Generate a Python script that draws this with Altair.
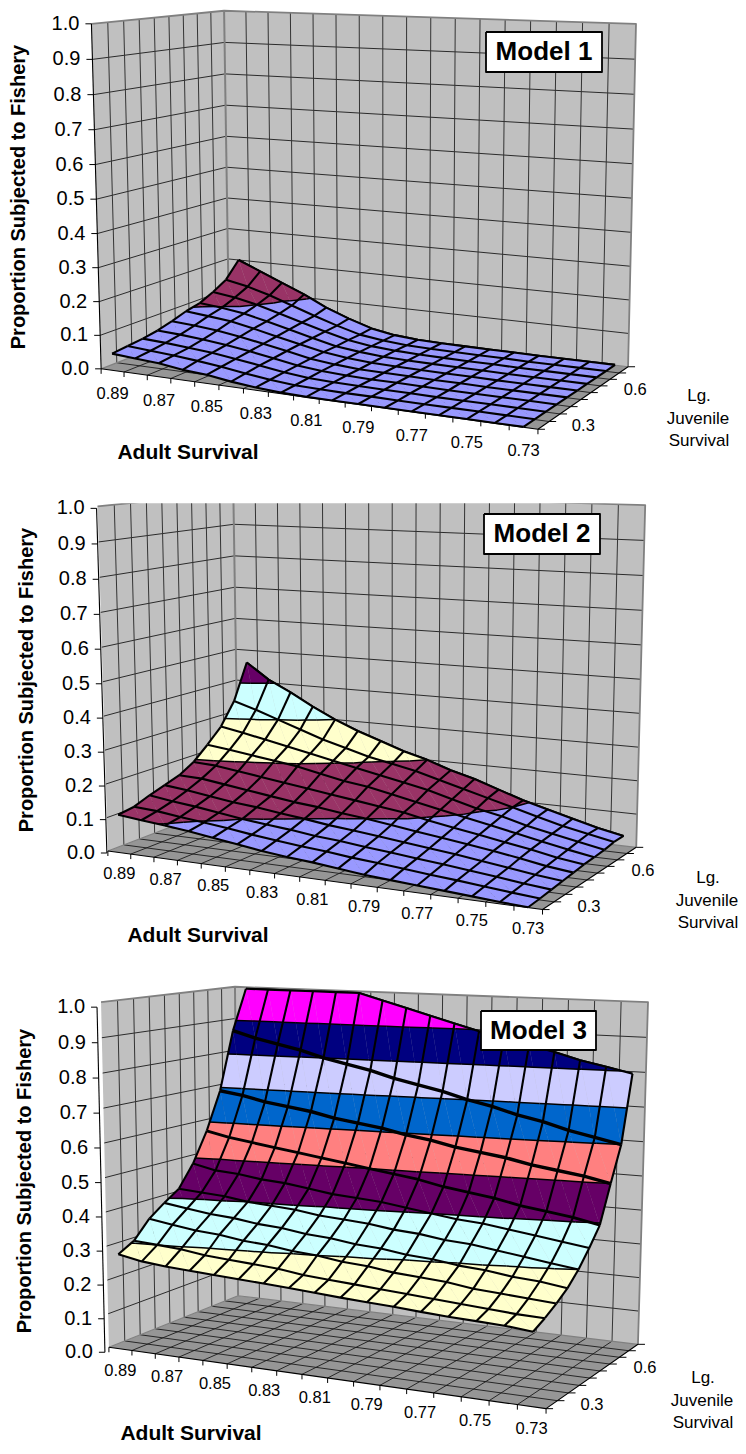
import altair as alt
import numpy as np
import pandas as pd

alt.data_transformers.disable_max_rows()

ADULT_LABELS = ["0.89", "0.87", "0.85", "0.83", "0.81", "0.79", "0.77", "0.75", "0.73"]
JUV_LABELS = ["0.3", "0.6"]
Z_LABELS = ["0.0", "0.1", "0.2", "0.3", "0.4", "0.5", "0.6", "0.7", "0.8", "0.9", "1.0"]
BAND_COLORS = ["#9999FF", "#993366", "#FFFFCC", "#CCFFFF", "#660066",
               "#FF8080", "#0066CC", "#CCCCFF", "#000080", "#FF00FF"]

# rows: back (largest juvenile survival) to front; columns: adult survival 0.89 -> 0.73
MODEL1 = [
    [.200, .170, .140, .110, .075, .048, .025, .012, .006, .004, .003, .002, .002, .001, .001, .001, .001],
    [.150, .135, .115, .090, .065, .042, .022, .012, .006, .004, .003, .002, .002, .001, .001, .001, .001],
    [.125, .115, .100, .080, .060, .040, .022, .012, .007, .004, .003, .002, .002, .001, .001, .001, .001],
    [.105, .098, .088, .072, .055, .037, .020, .012, .006, .004, .003, .002, .002, .001, .001, .001, .001],
    [.095, .088, .080, .066, .050, .035, .020, .011, .006, .004, .003, .002, .002, .001, .001, .001, .001],
    [.080, .075, .068, .058, .045, .032, .018, .010, .005, .004, .003, .002, .002, .001, .001, .001, .001],
    [.068, .064, .058, .050, .040, .028, .016, .009, .005, .003, .003, .002, .001, .001, .001, .001, .001],
    [.060, .056, .050, .044, .035, .025, .014, .007, .004, .003, .002, .002, .001, .001, .001, .001, .001],
    [.055, .050, .045, .038, .030, .020, .011, .005, .003, .002, .002, .001, .001, .001, .001, .001, .001],
    [.050, .045, .040, .030, .025, .015, .008, .003, .001, .001, .001, .001, .001, .001, .001, .001, .001],
]
MODEL2 = [
    [.460, .410, .375, .335, .300, .270, .245, .220, .200, .175, .155, .130, .105, .085, .065, .045, .030],
    [.347, .325, .300, .275, .250, .230, .210, .195, .180, .160, .140, .120, .100, .080, .060, .045, .030],
    [.278, .265, .250, .235, .220, .205, .190, .175, .160, .145, .125, .105, .090, .070, .055, .040, .025],
    [.234, .225, .215, .205, .195, .180, .165, .155, .140, .125, .110, .095, .080, .065, .050, .035, .022],
    [.194, .190, .180, .170, .160, .150, .140, .130, .120, .110, .095, .082, .070, .057, .045, .030, .020],
    [.168, .165, .155, .145, .135, .125, .118, .108, .100, .090, .080, .070, .060, .050, .038, .025, .016],
    [.153, .145, .135, .125, .118, .108, .100, .090, .083, .075, .066, .058, .050, .040, .030, .020, .012],
    [.138, .128, .120, .110, .100, .092, .085, .076, .070, .062, .055, .047, .040, .032, .024, .015, .008],
    [.120, .115, .106, .098, .090, .080, .072, .064, .058, .050, .044, .037, .030, .024, .017, .010, .004],
    [.113, .105, .098, .090, .080, .070, .060, .052, .046, .038, .030, .025, .020, .015, .010, .005, .001],
]
MODEL3 = [
    [.995, .995, .995, .995, .995, .995, .975, .955, .935, .915, .895, .880, .862, .845, .825, .810, .794],
    [.870, .850, .835, .820, .800, .785, .770, .750, .735, .720, .700, .685, .665, .650, .630, .615, .600],
    [.690, .680, .665, .655, .645, .630, .620, .610, .595, .585, .570, .560, .550, .535, .525, .515, .500],
    [.575, .560, .550, .540, .530, .520, .510, .500, .490, .480, .465, .455, .445, .430, .420, .410, .395],
    [.485, .470, .465, .455, .450, .440, .430, .425, .420, .410, .400, .390, .385, .375, .365, .355, .345],
    [.420, .415, .410, .400, .395, .390, .380, .375, .370, .360, .355, .345, .340, .330, .320, .310, .300],
    [.390, .380, .370, .365, .355, .350, .340, .335, .325, .320, .310, .305, .295, .290, .280, .275, .265],
    [.356, .345, .335, .330, .320, .315, .305, .300, .290, .285, .275, .270, .265, .255, .250, .245, .240],
    [.305, .300, .295, .285, .280, .275, .270, .260, .255, .250, .245, .240, .235, .230, .225, .220, .218],
    [.280, .267, .260, .256, .252, .248, .244, .240, .235, .230, .226, .222, .217, .213, .210, .207, .200],
]

WALL = "#C0C0C0"
FLOOR = "#969696"
EDGE = "#808080"
GRID = "#1a1a1a"
NU, NV = 17, 9

paths = []


def add_path(points, fill="transparent", stroke="transparent", sw=0.0):
    pid = len(paths)
    paths.append((pid, list(points), fill, stroke, sw))


def fit_camera(world, image):
    image = np.array(image, float)
    c = image.mean(axis=0)
    s = 300.0
    rows = []
    for (X, Y, Z), (x, y) in zip(world, (image - c) / s):
        rows.append([X, Y, Z, 1, 0, 0, 0, 0, -x * X, -x * Y, -x * Z, -x])
        rows.append([0, 0, 0, 0, X, Y, Z, 1, -y * X, -y * Y, -y * Z, -y])
    P = np.linalg.svd(np.array(rows))[2][-1].reshape(3, 4)

    def project(U, V, Z):
        h = P @ np.array([U, V, Z, 1.0])
        return (h[0] / h[2] * s + c[0], h[1] / h[2] * s + c[1])

    return project


def clip_band(tri, lo, hi):
    def clip(poly, keep, level):
        out = []
        for i, a in enumerate(poly):
            b = poly[(i + 1) % len(poly)]
            ia, ib = keep(a[2]), keep(b[2])
            if ia:
                out.append(a)
            if ia != ib:
                t = (level - a[2]) / (b[2] - a[2])
                out.append(tuple(a[k] + t * (b[k] - a[k]) for k in range(3)))
        return out

    poly = clip(list(tri), lambda z: z >= lo, lo)
    if poly:
        poly = clip(poly, lambda z: z <= hi, hi)
    return poly


def contour_segment(tri, level):
    pts = []
    for i in range(3):
        a, b = tri[i], tri[(i + 1) % 3]
        if (a[2] - level) * (b[2] - level) < 0:
            t = (level - a[2]) / (b[2] - a[2])
            pts.append(tuple(a[k] + t * (b[k] - a[k]) for k in range(3)))
    return pts if len(pts) == 2 else None


def draw_panel(grid, c, axis_off, row_widths):
    world = [(0, 0, 0), (0, 1, 0), (1, 1, 0), (1, 0, 0), (0, 0, 1), (0, 1, 1), (1, 1, 1)]
    image = [c["FL"], c["BL"], c["BR"], c["FR"], c["TFL"], c["TBL"], c["TBR"]]
    pr = fit_camera(world, image)

    # walls and floor
    add_path([pr(0, 0, 0), pr(0, 1, 0), pr(0, 1, 1), pr(0, 0, 1), pr(0, 0, 0)], fill=WALL)
    add_path([pr(0, 1, 0), pr(1, 1, 0), pr(1, 1, 1), pr(0, 1, 1), pr(0, 1, 0)], fill=WALL)
    add_path([pr(0, 0, 0), pr(1, 0, 0), pr(1, 1, 0), pr(0, 1, 0), pr(0, 0, 0)], fill=FLOOR)
    for k in range(1, 10):
        lev = k / 10
        add_path([pr(0, 0, lev), pr(0, 1, lev), pr(1, 1, lev)], stroke=GRID, sw=0.9)
    for j in range(1, NV):
        add_path([pr(0, j / NV, 0), pr(0, j / NV, 1)], stroke="#333333", sw=1.0)
        add_path([pr(0, j / NV, 0), pr(1, j / NV, 0)], stroke=GRID, sw=0.9)
    for i in range(1, NU):
        add_path([pr(i / NU, 1, 0), pr(i / NU, 1, 1)], stroke="#333333", sw=1.0)
        add_path([pr(i / NU, 0, 0), pr(i / NU, 1, 0)], stroke=GRID, sw=0.9)
    add_path([pr(0, 0, 1), pr(0, 1, 1), pr(1, 1, 1), pr(1, 1, 0)], stroke=EDGE, sw=1.8)
    add_path([pr(0, 1, 0), pr(0, 1, 1)], stroke=EDGE, sw=2.0)
    add_path([pr(0, 1, 0), pr(1, 1, 0)], stroke=EDGE, sw=1.2)
    add_path([pr(0, 0, 0), pr(0, 1, 0)], stroke=EDGE, sw=1.2)

    # axes
    ox, oy = axis_off
    a0 = pr(0, 0, 0)
    a1 = pr(0, 0, 1)
    add_path([(a0[0] + ox, a0[1] + oy), (a1[0] + ox, a1[1] + oy)], stroke="#000000", sw=1.1)
    add_path([pr(0, 0, 0), pr(1, 0, 0), pr(1, 1, 0)], stroke="#000000", sw=1.1)
    for k in range(11):
        p = pr(0, 0, k / 10)
        add_path([(p[0] + ox, p[1] + oy), (p[0] + ox - 6, p[1] + oy)], stroke="#000000", sw=1.0)
    for i in range(NU + 1):
        p = pr(i / NU, 0, 0)
        add_path([p, (p[0], p[1] + 5)], stroke="#000000", sw=1.0)
    for j in range(NV + 1):
        p = pr(1, j / NV, 0)
        add_path([p, (p[0] + 7, p[1])], stroke="#000000", sw=1.0)

    # surface, back to front; the tiny nudge keeps vertices off the band boundaries
    z = np.clip(np.array(grid[::-1], float) + 1.3e-5, 0, 1)
    def w(u, v):
        return ((u + 0.5) / NU, v / NV, float(z[v, u]))
    def line_width(v):
        return row_widths.get(v, 2.1)

    add_path([pr(*w(u, NV)) for u in range(NU)], stroke="#000000", sw=line_width(NV))
    for v in range(NV - 1, -1, -1):
        contours = []
        for u in range(NU - 1):
            A, B, C, D = w(u, v), w(u + 1, v), w(u + 1, v + 1), w(u, v + 1)
            for tri in ((A, B, D), (B, C, D)):
                for b in range(10):
                    poly = clip_band(tri, b / 10, (b + 1) / 10 if b < 9 else 1.01)
                    if len(poly) >= 3:
                        pts = [pr(*p) for p in poly]
                        add_path(pts + [pts[0]], fill=BAND_COLORS[b], stroke=BAND_COLORS[b], sw=0.25)
                for lv in range(1, 10):
                    seg = contour_segment(tri, lv / 10)
                    if seg:
                        contours.append([pr(*seg[0]), pr(*seg[1])])
        for seg in contours:
            add_path(seg, stroke="#000000", sw=1.5)
        for u in range(NU):
            add_path([pr(*w(u, v)), pr(*w(u, v + 1))], stroke="#000000", sw=2.1)
        add_path([pr(*w(u, v + 1)) for u in range(NU)], stroke="#000000", sw=line_width(v + 1))
    add_path([pr(*w(u, 0)) for u in range(NU)], stroke="#000000", sw=line_width(0))

    # texts that follow the axes
    texts = {"z": [], "adult": [], "juv": []}
    for k, lab in enumerate(Z_LABELS):
        p = pr(0, 0, k / 10)
        texts["z"].append({"t": lab, "px": p[0] + ox - 12, "py": p[1] + oy})
    for n, lab in enumerate(ADULT_LABELS):
        p = pr((2 * n + 0.5) / NU, 0, 0)
        texts["adult"].append({"t": lab, "px": p[0], "py": p[1] + c["adult_dy"]})
    for lab, vv in zip(JUV_LABELS, (2.5, 7.8)):
        p = pr(1, vv / NV, 0)
        texts["juv"].append({"t": lab, "px": p[0] + 18, "py": p[1] + 16})
    return texts


CAM1 = dict(FL=(101, 368), BL=(229, 320), BR=(628, 366), FR=(538, 430),
            TFL=(91.5, 24), TBL=(224, 10.5), TBR=(636, 24), adult_dy=24)
CAM2 = dict(FL=(108, 850), BL=(238, 802), BR=(636, 847), FR=(543, 910),
            TFL=(97, 507), TBL=(234, 492), TBR=(645, 505), adult_dy=21)
CAM3 = dict(FL=(109, 1348), BL=(238, 1295), BR=(638, 1345), FR=(546, 1408),
            TFL=(101, 1002), TBL=(235, 987), TBR=(648, 1002), adult_dy=22)

t1 = draw_panel(MODEL1, CAM1, (0, 0), {})
t2 = draw_panel(MODEL2, CAM2, (-1, 2), {})
# the second picture is cut off along its top
add_path([(8, 478), (738, 478), (738, 503), (8, 503), (8, 478)], fill="#FFFFFF", stroke="#FFFFFF", sw=0.5)
t3 = draw_panel(MODEL3, CAM3, (-4, 5), {8: 3.4, 7: 3.4, 6: 2.8})

BOXES = [(486, 32, 602, 72), (484, 514, 600, 554), (481, 1011, 596, 1050)]
for x0, y0, x1, y1 in BOXES:
    add_path([(x0, y0), (x1, y0), (x1, y1), (x0, y1), (x0, y0)], fill="#FFFFFF", stroke="#000000", sw=1.8)

rows = []
for pid, pts, fill, stroke, sw in paths:
    for i, (x, y) in enumerate(pts):
        rows.append((f"{pid:06d}", i, round(float(x), 2), round(float(y), 2), fill, stroke, sw))
df = pd.DataFrame(rows, columns=["pid", "idx", "px", "py", "fill", "stroke", "sw"])

xs = alt.Scale(domain=[8, 738], range=[0, 730], nice=False, zero=False)
ys = alt.Scale(domain=[8, 1446], range=[0, 1438], nice=False, zero=False)
X = alt.X("px:Q", scale=xs, axis=None)
Y = alt.Y("py:Q", scale=ys, axis=None)

shapes = alt.Chart(df).mark_line(strokeJoin="round", strokeCap="butt").encode(
    x=X, y=Y,
    detail="pid:N",
    order=alt.Order("idx:Q"),
    fill=alt.Fill("fill:N", scale=None),
    stroke=alt.Stroke("stroke:N", scale=None),
    strokeWidth=alt.StrokeWidth("sw:Q", scale=None),
)


def text_layer(records, **kw):
    opts = dict(font="Liberation Sans", color="#000000", baseline="middle")
    opts.update(kw)
    return alt.Chart(pd.DataFrame(records)).mark_text(**opts).encode(x=X, y=Y, text="t:N")


all_t = [t1, t2, t3]
z_rec = [r for t in all_t for r in t["z"]]
adult_rec = [r for t in all_t for r in t["adult"]]
juv_rec = [r for t in all_t for r in t["juv"]]
adult_title = [{"t": "Adult Survival", "px": x, "py": y} for x, y in [(188, 453), (198, 936), (191, 1434)]]
y_title = [{"t": "Proportion Subjected to Fishery", "px": x, "py": y} for x, y in [(19, 197), (27, 680), (25, 1181)]]
juv_title = [{"t": t, "px": x + dx, "py": y + dy}
             for x, y in [(699, 396), (708, 878), (703, 1378)]
             for t, dx, dy in [("Lg.", 0, 0), ("Juvenile", -1, 23), ("Survival", 0, 45)]]
model_names = [{"t": f"Model {i + 1}", "px": (b[0] + b[2]) / 2, "py": (b[1] + b[3]) / 2} for i, b in enumerate(BOXES)]

chart = alt.layer(
    shapes,
    text_layer(z_rec, fontSize=20, align="right"),
    text_layer(adult_rec + juv_rec, fontSize=16.5, align="center"),
    text_layer(juv_title, fontSize=17, align="center"),
    text_layer(adult_title, fontSize=21, fontWeight="bold", align="center"),
    text_layer(y_title, fontSize=20, fontWeight="bold", align="center", angle=270),
    text_layer(model_names, fontSize=26, fontWeight="bold", align="center"),
).properties(width=730, height=1438, padding=0, autosize="none").configure_view(stroke=None)

chart.save("out.html", embed_options={"renderer": "svg", "actions": False})
